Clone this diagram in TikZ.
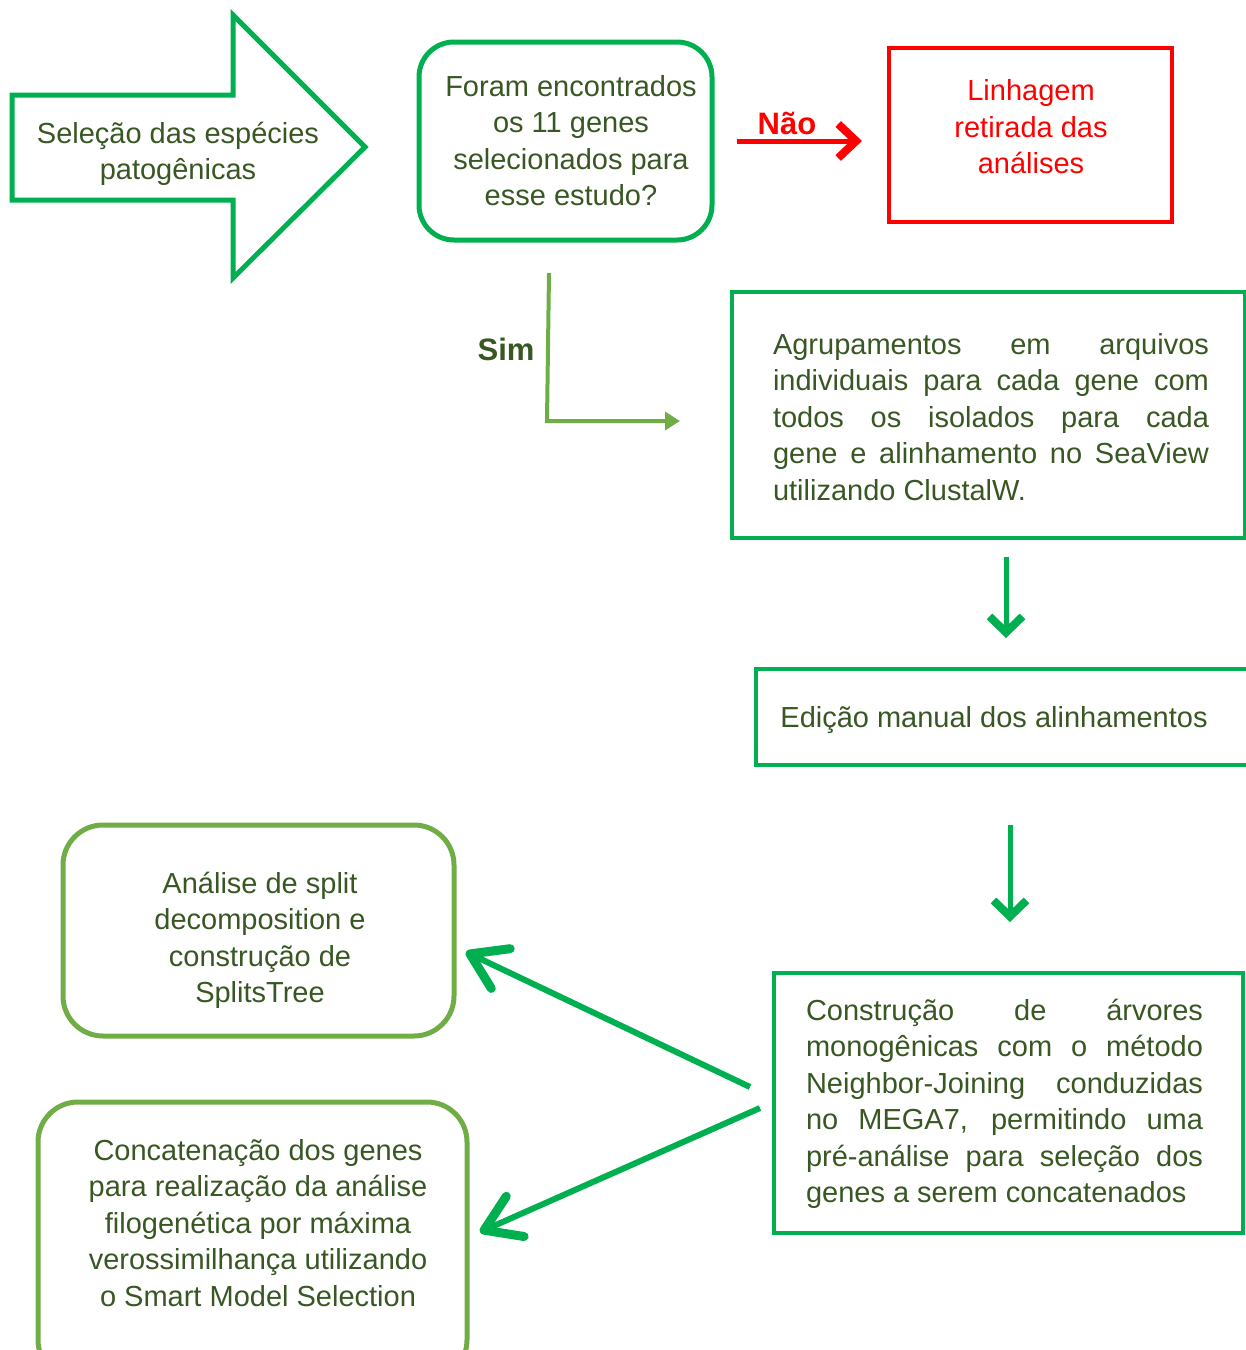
\documentclass[tikz,border=0pt]{standalone}
\usepackage{fontspec}
\setmainfont{Liberation Sans}
\usetikzlibrary{arrows.meta}
\definecolor{boxgreen}{HTML}{00B050}
\definecolor{lightgreen}{HTML}{70AD47}
\definecolor{txtgreen}{HTML}{385723}
\definecolor{myred}{HTML}{FF0000}
\newcommand\mytxtsetup{\tolerance=10000 \hbadness=10000 \relax}
\begin{document}
\begin{tikzpicture}[x=0.5pt,y=-0.5pt,
  txt/.style={text=txtgreen,font={\fontsize{14.5}{18.25}\selectfont\mytxtsetup},inner sep=0pt,align=center},
  jtxt/.style={txt,align=justify},
  sqbox/.style={draw=boxgreen,line width=2pt,inner sep=0pt},
  redbox/.style={draw=myred,line width=2pt,inner sep=0pt},
  rbox/.style={draw=lightgreen,line width=2.5pt,rounded corners=20pt,inner sep=0pt},
  qbox/.style={draw=boxgreen,line width=2.5pt,rounded corners=17.5pt,inner sep=0pt},
  downarrow/.style={draw=boxgreen,line width=2.5pt,-{Straight Barb[length=8pt,width=16.5pt,line width=4pt]}},
  diagarrow/.style={draw=boxgreen,line width=3pt,-{Straight Barb[length=17pt,width=22pt,round,line width=4.5pt]}},
  noarrow/.style={draw=myred,line width=2.5pt,-{Straight Barb[length=9pt,width=17pt,line width=4pt]}},
  simarrow/.style={draw=lightgreen,line width=2pt,-{Triangle[length=7.5pt,width=9pt]}},
  lbl/.style={font={\fontsize{15.5}{18}\selectfont\bfseries},inner sep=0pt}
]
\useasboundingbox (0,0) rectangle (1246,1350);
\clip (0,0) rectangle (1246,1350);

% big arrow shape
\draw[boxgreen,line width=2.5pt,line join=miter]
  (12,95) -- (233,95) -- (233,15) -- (365,147) -- (233,278) -- (233,200) -- (12,200) -- cycle;
\node[txt] (sel) at (178,154) {Seleção das espécies\\patogênicas};

% question box
\node[qbox,minimum width=146.5pt,minimum height=99pt] (q) at (565.5,141) {};
\node[txt] (qt) at (571,140.5) {Foram encontrados\\os 11 genes\\selecionados para\\esse estudo?};

% red box
\node[redbox,minimum width=141.5pt,minimum height=87pt] (red) at (1030.5,135) {};
\node[txt,text=myred] (redt) at (1031,127) {Linhagem\\retirada das\\análises};

% Nao arrow
\coordinate (ns) at (737,141);
\coordinate (ne) at (862,141);
\draw[noarrow] (ns) -- (ne);
\node[lbl,text=myred] (nao) at (787,123) {Não};

% Sim connector
\coordinate (ss) at (549,273);
\coordinate (sc) at (547,421);
\coordinate (se) at (680,421);
\draw[simarrow,line join=miter] (ss) -- (sc) -- (se);
\node[lbl,text=txtgreen] (sim) at (506,349) {Sim};

% Agrupamentos box
\node[sqbox,minimum width=256.5pt,minimum height=123pt] (agr) at (988.5,415) {};
\node[jtxt,text width=218pt] (agrt) at (991,417) {Agrupamentos em arquivos\linebreak individuais para cada gene com\linebreak todos os isolados para cada\linebreak gene e alinhamento no SeaView\linebreak utilizando ClustalW.};

% arrow 1
\coordinate (d1s) at (1006,557);
\coordinate (d1e) at (1006,638);
\draw[downarrow] (d1s) -- (d1e);

% Edicao box
\node[sqbox,minimum width=255pt,minimum height=48pt] (edi) at (1011,717) {};
\node[txt,anchor=west] (edit) at (780,720) {Edição manual dos alinhamentos};

% arrow 2
\coordinate (d2s) at (1010,825);
\coordinate (d2e) at (1010,922);
\draw[downarrow] (d2s) -- (d2e);

% Construcao box
\node[sqbox,minimum width=234.5pt,minimum height=130pt] (con) at (1008.5,1103) {};
\node[jtxt,text width=198.5pt] (cont) at (1004.5,1104) {Construção de árvores\linebreak monogênicas com o método\linebreak Neighbor-Joining conduzidas\linebreak no MEGA7, permitindo uma\linebreak pré-análise para seleção dos\linebreak genes a serem concatenados};

% Analise box
\node[rbox,minimum width=195.5pt,minimum height=105.5pt] (ana) at (258.5,930.5) {};
\node[txt] (anat) at (260,940.5) {Análise de split\\decomposition e\\construção de\\SplitsTree};

% Concatenacao box
\node[rbox,minimum width=214.5pt,minimum height=139pt] (cat) at (252.5,1241) {};
\node[txt] (catt) at (258,1223) {Concatenação dos genes\\para realização da análise\\filogenética por máxima\\verossimilhança utilizando\\o Smart Model Selection};

% diagonal arrows
\coordinate (g1s) at (750,1087);
\coordinate (g1e) at (466,952);
\coordinate (g2s) at (760,1108);
\coordinate (g2e) at (480,1232);
\draw[diagarrow] (g1s) -- (g1e);
\draw[diagarrow] (g2s) -- (g2e);
\end{tikzpicture}
\end{document}
